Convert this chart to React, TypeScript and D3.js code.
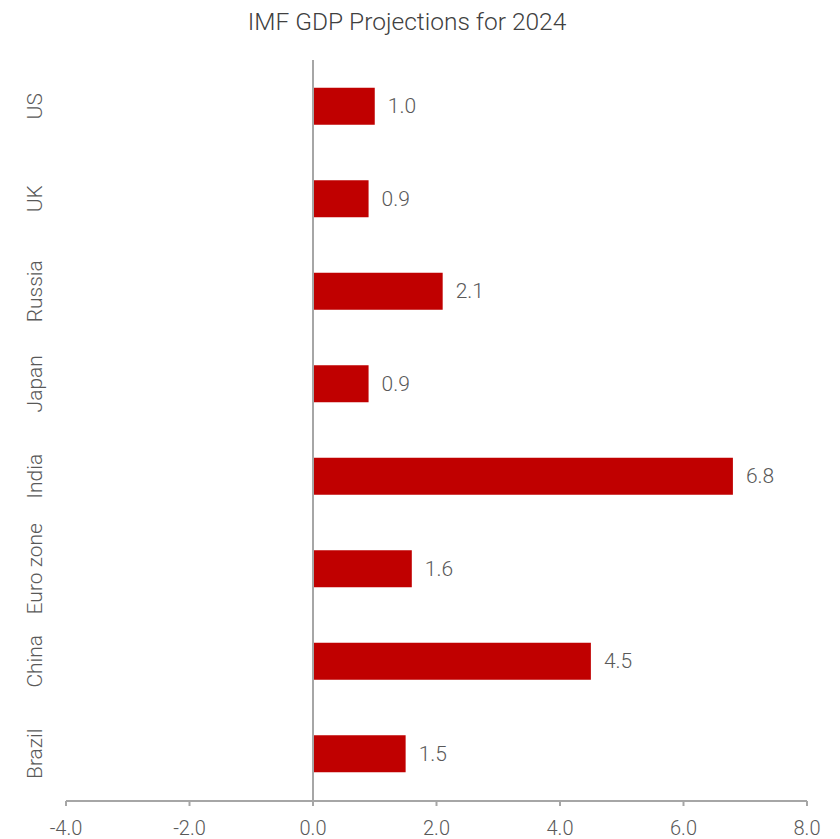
import React from "react";
import * as d3 from "d3";

const categories = ["US", "UK", "Russia", "Japan", "India", "Euro zone", "China", "Brazil"];
const values = [1.0, 0.9, 2.1, 0.9, 6.8, 1.6, 4.5, 1.5];
const xTicks = [-4, -2, 0, 2, 4, 6, 8];
const title = "IMF GDP Projections for 2024";

export default function App() {
  const W = 840, H = 839;
  const x = d3.scaleLinear().domain([-4, 8]).range([66, 807]);
  const y = d3.scaleBand().domain(categories).range([60, 800]).paddingInner(0.6).paddingOuter(0.3);
  const font = "Roboto, 'Liberation Sans', sans-serif";
  const axisY = 801;
  return (
    <svg width={W} height={H} style={{ position: "absolute", left: 0, top: 0, background: "#fff" }} fontFamily={font}>
      <text x={407} y={30} textAnchor="middle" fontSize={24.5} fontWeight={300} fill="#404040">{title}</text>
      {categories.map((c, i) => (
        <g key={c}>
          <rect x={x(0)} y={y(c)!} width={x(values[i]) - x(0)} height={y.bandwidth()} fill="#c00000" />
          <text x={x(values[i]) + 13} y={y(c)! + y.bandwidth() / 2} dominantBaseline="central" fontSize={21} fontWeight={300} fill="#595959">{values[i].toFixed(1)}</text>
          <text transform={`translate(35,${y(c)! + y.bandwidth() / 2}) rotate(-90)`} textAnchor="middle" dominantBaseline="central" fontSize={21} fontWeight={300} fill="#595959">{c}</text>
        </g>
      ))}
      <line x1={x(0)} x2={x(0)} y1={60} y2={axisY} stroke="#a6a6a6" strokeWidth={2} />
      <line x1={x(-4)} x2={x(8)} y1={axisY} y2={axisY} stroke="#a6a6a6" strokeWidth={2} />
      {xTicks.map(t => (
        <g key={t}>
          <line x1={x(t)} x2={x(t)} y1={axisY} y2={axisY + 5} stroke="#a6a6a6" strokeWidth={2} />
          <text x={x(t)} y={835} textAnchor="middle" fontSize={20} fontWeight={300} fill="#595959">{t.toFixed(1)}</text>
        </g>
      ))}
    </svg>
  );
}
